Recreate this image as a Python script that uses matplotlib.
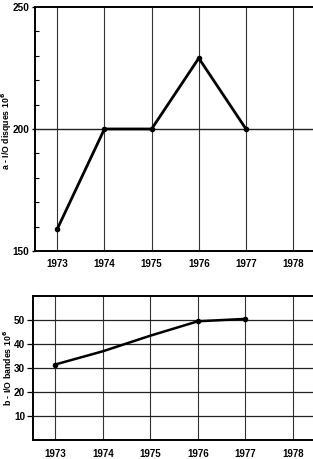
"""Two-panel I/O chart: disk I/O (a) and tape I/O (b), 1973-1978."""
import numpy as np
import matplotlib
matplotlib.use("Agg")
import matplotlib.pyplot as plt
from matplotlib.ticker import MultipleLocator

plt.rcParams["font.family"] = ["Liberation Sans Narrow", "Liberation Sans", "DejaVu Sans"]
plt.rcParams["font.weight"] = "bold"

years = [1973, 1974, 1975, 1976, 1977]
tick_years = [1973, 1974, 1975, 1976, 1977, 1978]
disques = [159, 200, 200, 229, 200]
bandes = [31.5, 37, 43.5, 49.5, 50.5]

fig = plt.figure(figsize=(3.13, 4.59), dpi=100)
a1 = fig.add_axes([0.112, 0.453, 0.888, 0.532])
a2 = fig.add_axes([0.105, 0.041, 0.895, 0.314])

for ax in (a1, a2):
    ax.set_xlim(1972.53, 1978.42)
    ax.set_xticks(tick_years)
    for x in tick_years:
        ax.axvline(x, color="#333", lw=0.8, zorder=1)
    ax.spines["right"].set_visible(False)
    for s in ("left", "bottom", "top"):
        ax.spines[s].set_linewidth(1.4)
    ax.tick_params(axis="x", length=0, pad=6, labelsize=7)
    ax.tick_params(axis="y", labelsize=7.2)

# a - disques
a1.set_ylim(150, 250)
a1.set_yticks([150, 200, 250])
a1.yaxis.set_minor_locator(MultipleLocator(10))
a1.tick_params(axis="y", which="major", length=2.5, width=1, pad=1.5)
a1.tick_params(axis="y", which="minor", direction="in", length=3, width=0.8)
a1.axhline(200, color="#222", lw=1.0, zorder=1)
a1.plot(years, disques, color="black", lw=2, marker="o", ms=3, zorder=3)
fig.text(0.021, 0.715, "a - I/O disques 10$^6$", rotation=90, fontsize=6.3,
         ha="center", va="center")

# b - bandes
a2.set_ylim(0, 60)
a2.set_yticks([10, 20, 30, 40, 50])
a2.tick_params(axis="y", length=4, width=0.9, pad=1.5)
for y in [10, 20, 30, 40, 50]:
    a2.axhline(y, color="#222", lw=0.9, zorder=1)
a2.plot(years, bandes, color="black", lw=1.8, zorder=3)
a2.plot([years[0], years[3], years[4]], [bandes[0], bandes[3], bandes[4]],
        "o", color="black", ms=3, zorder=4)
fig.text(0.025, 0.198, "b - I/O bandes 10$^6$", rotation=90, fontsize=6.3,
         ha="center", va="center")

fig.savefig("out.png", dpi=100)
